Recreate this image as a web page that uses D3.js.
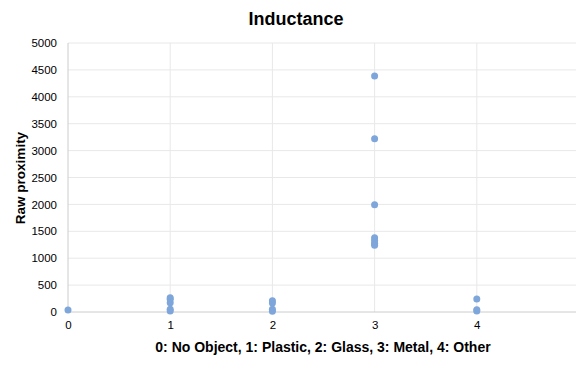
<svg id="svg" width="576" height="366"></svg>
<script src="https://cdn.jsdelivr.net/npm/d3@7"></script>
<script>
    // category index on x, raw proximity readings on y
    var categories = [0, 1, 2, 3, 4];
    var noObject = [35];
    var plastic = [265, 235, 170, 50, 20];
    var glass = [210, 165, 50, 15];
    var metal = [4385, 3220, 1995, 1380, 1330, 1280, 1240];
    var other = [242, 40, 20];
    var yTicks = d3.range(0, 5001, 500);

    var readings = [noObject, plastic, glass, metal, other];
    var points = [];
    readings.forEach(function (vals, i) {
        vals.forEach(function (v) { points.push({ cat: categories[i], value: v }); });
    });

    var svg = d3.select("#svg");
    var font = "'Liberation Sans', Arial, Helvetica, sans-serif";

    var x = d3.scaleLinear().domain([0, 5]).range([68, 579]);
    var y = d3.scaleLinear().domain([0, 5000]).range([312, 43]);

    svg.append("clipPath").attr("id", "plot")
        .append("rect").attr("x", 60).attr("y", 0).attr("width", 516).attr("height", 366);

    var grid = svg.append("g").attr("clip-path", "url(#plot)");

    grid.selectAll("line.h")
        .data(yTicks.slice(1))
        .enter().append("line")
        .attr("x1", x(0)).attr("x2", x(5))
        .attr("y1", function (d) { return y(d); })
        .attr("y2", function (d) { return y(d); })
        .attr("stroke", "#e8e8e8");

    grid.selectAll("line.v")
        .data(categories.slice(1))
        .enter().append("line")
        .attr("x1", function (d) { return x(d); })
        .attr("x2", function (d) { return x(d); })
        .attr("y1", y(5000)).attr("y2", y(0))
        .attr("stroke", "#e8e8e8");

    // baselines
    grid.append("line")
        .attr("x1", x(0)).attr("x2", x(5))
        .attr("y1", y(0)).attr("y2", y(0))
        .attr("stroke", "#cccccc");
    svg.append("line")
        .attr("x1", x(0)).attr("x2", x(0))
        .attr("y1", y(5000)).attr("y2", y(0))
        .attr("stroke", "#cccccc");

    var yAxis = svg.append("g")
        .attr("transform", "translate(" + (x(0) - 11) + ",0)")
        .call(d3.axisLeft(y).tickValues(yTicks).tickSize(0).tickPadding(0).tickFormat(d3.format("d")));
    var xAxis = svg.append("g")
        .attr("transform", "translate(0," + (y(0) + 9) + ")")
        .call(d3.axisBottom(x).tickValues(categories).tickSize(0).tickPadding(0).tickFormat(d3.format("d")));

    [yAxis, xAxis].forEach(function (a) {
        a.select(".domain").remove();
        a.selectAll("text")
            .attr("font-family", font)
            .attr("font-size", 11.5)
            .attr("fill", "#000");
    });

    svg.selectAll("circle")
        .data(points)
        .enter().append("circle")
        .attr("cx", function (d) { return x(d.cat); })
        .attr("cy", function (d) { return y(d.value); })
        .attr("r", 3.5)
        .attr("fill", "#7ea6da");

    svg.append("text")
        .attr("x", 296).attr("y", 25)
        .attr("text-anchor", "middle")
        .attr("font-family", font).attr("font-weight", "bold").attr("font-size", 18)
        .text("Inductance");

    svg.append("text")
        .attr("x", 323).attr("y", 352)
        .attr("text-anchor", "middle")
        .attr("font-family", font).attr("font-weight", "bold").attr("font-size", 14)
        .text("0: No Object, 1: Plastic, 2: Glass, 3: Metal, 4: Other");

    svg.append("text")
        .attr("transform", "translate(25,178) rotate(-90)")
        .attr("text-anchor", "middle")
        .attr("font-family", font).attr("font-weight", "bold").attr("font-size", 13.5)
        .text("Raw proximity");
</script>
<style>
    html,
    body {
        margin: 0;
        padding: 0;
    }
</style>
